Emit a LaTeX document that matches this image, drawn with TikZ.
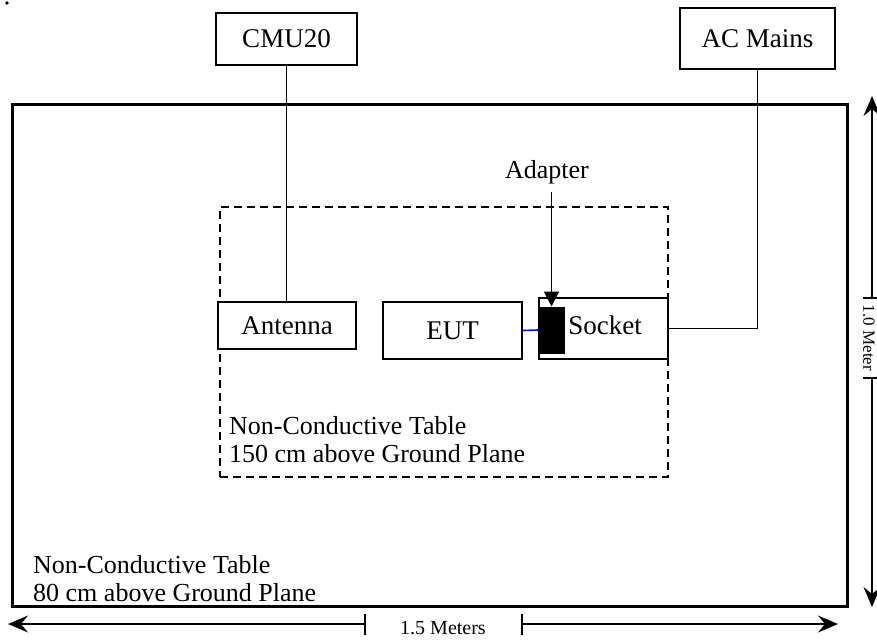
\documentclass[tikz,border=0pt]{standalone}
\usepackage{fontspec}
\setmainfont{Liberation Serif}
\usetikzlibrary{arrows.meta}
\begin{document}
\begin{tikzpicture}[x=1pt,y=-1pt,
  box/.style={draw,line width=1.8pt,inner sep=0pt,font=\fontsize{27}{29}\selectfont},
  wire/.style={line width=1.8pt},
  lbl/.style={font=\fontsize{26}{28}\selectfont,inner sep=0pt,align=left},
  dimtxt/.style={font=\fontsize{20}{22}\selectfont,inner sep=0pt},
  dimarrow/.style={line width=1.3pt,-{Stealth[length=20pt,width=17pt,inset=7pt]}},
  dimtick/.style={line width=1.3pt}]
\useasboundingbox (0,0) rectangle (877,642);
\fill (7,3) circle (1.8);
% outer table
\node[draw,line width=3pt,inner sep=0pt,minimum width=835pt,minimum height=502pt] (outer) at (429.5,355) {};
% inner dashed table
\node[draw,line width=2.4pt,dash pattern=on 8pt off 5pt,inner sep=0pt,minimum width=448pt,minimum height=270pt] (inner) at (444,342) {};
% boxes
\node[box,minimum width=141pt,minimum height=52pt] (cmu) at (286.5,39) {CMU20};
\node[box,minimum width=155pt,minimum height=61pt] (ac) at (757.5,38.5) {AC Mains};
\node[box,minimum width=138pt,minimum height=47pt,fill=white] (ant) at (287,325.5) {Antenna};
\node[box,minimum width=139pt,minimum height=57pt] (eut) at (452.5,330.5) {EUT};
\node[box,minimum width=129pt,minimum height=61pt,fill=white,text width=129pt,align=center] (sock) at (603.5,328.5) {\hspace*{3pt}Socket\vspace*{6pt}};
\node[draw,fill=black,line width=1pt,inner sep=0pt,minimum width=25pt,minimum height=46pt] (adp) at (551.5,330) {};
% labels
\node[lbl,anchor=south] (adlbl) at (547,184) {Adapter};
\node[lbl,anchor=north west] (innerlbl) at (229,416) {Non-Conductive Table\\150 cm above Ground Plane};
\node[lbl,anchor=north west] (outerlbl) at (33,555) {Non-Conductive Table\\80 cm above Ground Plane};
% connectors
\draw[wire] (cmu.south) -- (cmu.south |- ant.north);
\draw[wire] (ac.south) |- (sock.east);
\draw[wire,-{Triangle[length=15pt,width=15pt]}] ([yshift=-8pt]adlbl.south -| adp.north) -- (adp.north);
\draw[line width=1.6pt,blue] (eut.east) -- (adp.west);
% horizontal dimension
\coordinate (bl) at (8,624);
\coordinate (br) at (838,624);
\coordinate (bt1) at (365,624);
\coordinate (bt2) at (522,624);
\node[dimtxt] (blbl) at (443,628) {1.5 Meters};
\draw[dimarrow] (bt1) -- (bl);
\draw[dimarrow] (bt2) -- (br);
\draw[dimtick] ([yshift=-11pt]bt1) -- ([yshift=10pt]bt1);
\draw[dimtick] ([yshift=-11pt]bt2) -- ([yshift=10pt]bt2);
% vertical dimension
\coordinate (vt) at (872,96);
\coordinate (vb) at (872,607);
\coordinate (vt1) at (872,298);
\coordinate (vt2) at (872,378);
\node[dimtxt,font=\fontsize{17}{19}\selectfont,rotate=-90] (vlbl) at (869,338) {1.0 Meter};
\draw[dimarrow] (vt1) -- (vt);
\draw[dimarrow] (vt2) -- (vb);
\draw[dimtick] ([xshift=-9pt]vt1) -- ([xshift=9pt]vt1);
\draw[dimtick] ([xshift=-9pt]vt2) -- ([xshift=9pt]vt2);
\end{tikzpicture}
\end{document}
